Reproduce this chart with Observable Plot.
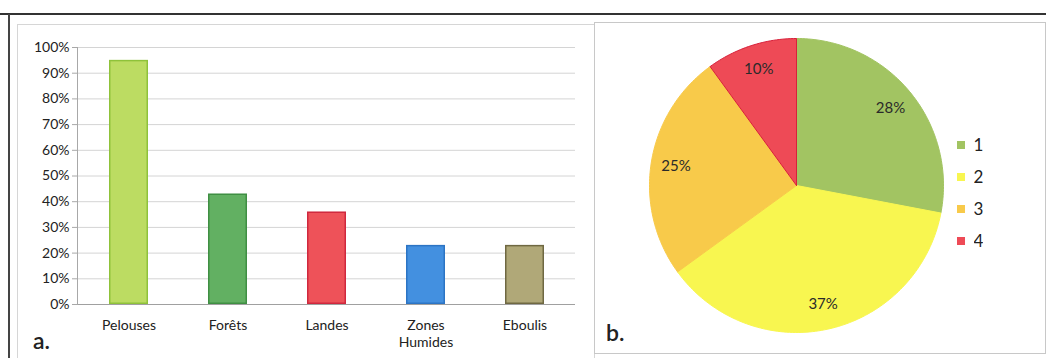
<!DOCTYPE html>
<html><head><meta charset="utf-8">
<script src="https://cdn.jsdelivr.net/npm/d3@7"></script>
<script src="https://cdn.jsdelivr.net/npm/@observablehq/plot@0.6"></script>
<style>
html,body{margin:0;padding:0;background:#fff;width:1046px;height:358px;overflow:hidden;font-family:Lato,"Open Sans",sans-serif;}
#root{position:relative;width:1046px;height:358px;overflow:hidden;}
.abs{position:absolute;}
#topline{left:0;top:13px;width:1046px;height:0;border-top:2px solid #333;}
#leftline{left:8px;top:14px;width:0;height:344px;border-left:2px solid #444;}
#boxA{left:17px;top:24px;width:576px;height:340px;border:1px solid #d6d6d6;}
#boxB{left:594px;top:22px;width:450px;height:330px;border:1px solid #c8c8c8;}
.panel{font-size:23px;color:#222;font-weight:600;}
#lg{left:957px;top:129px;}
.lg-swatch{height:31px;font-size:17px;color:#222;}
</style></head>
<body><div id="root">
<div id="topline" class="abs"></div>
<div id="leftline" class="abs"></div>
<div id="boxA" class="abs"></div>
<div id="boxB" class="abs"></div>
<div id="chartA" class="abs" style="left:17px;top:25px;"></div>
<div id="chartB" class="abs" style="left:594px;top:22px;"></div>
<div id="lg" class="abs"></div>
<div class="abs panel" style="left:33px;top:326px;">a.</div>
<div class="abs panel" style="left:606px;top:318px;">b.</div>
</div>
<script>
// Bar chart data (panel a)
const categories = ["Pelouses", "Forêts", "Landes", "Zones\nHumides", "Eboulis"];
const barValues = [95, 43, 36, 23, 23];
const barFills = ["#bcdc62", "#62b062", "#ee5259", "#4390e0", "#b0a878"];
const barStrokes = ["#8fc23a", "#3f8f43", "#d0283e", "#2c74c4", "#6f6842"];
const yTicks = [0, 10, 20, 30, 40, 50, 60, 70, 80, 90, 100];

// Pie chart data (panel b)
const pieLabels = ["1", "2", "3", "4"];
const pieValues = [28, 37, 25, 10];
const pieColors = ["#a2c462", "#f8f650", "#f8ca4a", "#ee4a56"];

const font = "Lato, 'Open Sans', sans-serif";

const bars = categories.map((c, i) => ({cat: c, v: barValues[i], fill: barFills[i], stroke: barStrokes[i]}));

const chartA = Plot.plot({
  width: 576, height: 333,
  marginLeft: 60, marginRight: 18, marginTop: 22, marginBottom: 54,
  style: {fontFamily: font, fontSize: "14px", color: "#222", background: "transparent"},
  x: {domain: categories, paddingInner: 0.61, paddingOuter: 0.32, label: null},
  y: {domain: [0, 100], label: null},
  marks: [
    Plot.ruleY(yTicks.slice(1), {stroke: "#d4d4d4", strokeWidth: 1}),
    Plot.barY(bars, {x: "cat", y: "v", fill: d => d.fill, stroke: d => d.stroke, strokeWidth: 1.5, inset: 0.75}),
    Plot.ruleY([0], {stroke: "#a0a0a0"}),
    Plot.frame({anchor: "left", stroke: "#a8a8a8"}),
    Plot.axisY({ticks: yTicks, tickFormat: d => d + "%", tickSize: 5, tickPadding: 3, stroke: "#a8a8a8", label: null, fontSize: 14}),
    Plot.axisX({tickSize: 0, tickPadding: 13, label: null, fontSize: 14, lineHeight: 1.25})
  ]
});
document.getElementById("chartA").appendChild(chartA);

// Pie geometry computed from values with d3.pie
const arcs = d3.pie().sort(null).startAngle(0).endAngle(2 * Math.PI)(pieValues);
const poly = [];
arcs.forEach((a, i) => {
  const n = Math.max(2, Math.ceil((a.endAngle - a.startAngle) / 0.02));
  poly.push({s: i, x: 0, y: 0});
  for (let k = 0; k <= n; k++) {
    const t = a.startAngle + (a.endAngle - a.startAngle) * k / n;
    poly.push({s: i, x: Math.sin(t), y: Math.cos(t)});
  }
  poly.push({s: i, x: 0, y: 0});
});
const labelPos = arcs.map((a, i) => {
  const m = (a.startAngle + a.endAngle) / 2;
  return {x: 0.83 * Math.sin(m), y: 0.83 * Math.cos(m), t: pieValues[i] + "%"};
});

const cx = 202, cy = 163, R = 147;
const chartB = Plot.plot({
  width: 450, height: 330, margin: 0,
  style: {fontFamily: font, background: "transparent"},
  x: {domain: [-1, 1], range: [cx - R, cx + R], axis: null},
  y: {domain: [-1, 1], range: [cy + R, cy - R], axis: null},
  marks: pieLabels.map((l, i) => Plot.line(poly.filter(p => p.s === i), {
      x: "x", y: "y", fill: pieColors[i], stroke: i === 3 ? "#d8203a" : pieColors[i], strokeWidth: 1
    })).concat([
    Plot.text(labelPos, {x: "x", y: "y", text: "t", fontSize: 15, fill: "#2a2a2a"})
  ])
});
document.getElementById("chartB").appendChild(chartB);

const lg = Plot.legend({
  color: {type: "ordinal", domain: pieLabels, range: pieColors},
  legend: "swatches", columns: 1, swatchSize: 8, className: "lg",
  style: {fontFamily: font, fontSize: "17px", color: "#222"}
});
document.getElementById("lg").appendChild(lg);
</script>
</body></html>
